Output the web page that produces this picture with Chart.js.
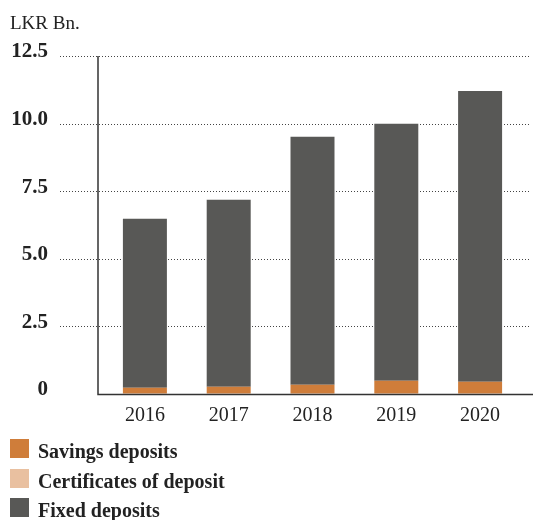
<!DOCTYPE html>
<html>
<head>
<meta charset="utf-8">
<script src="https://cdn.jsdelivr.net/npm/chart.js@4/dist/chart.umd.min.js"></script>
<style>
  body { margin: 0; background: #fff; }
  #wrap { position: relative; width: 533px; height: 520px; overflow: hidden; }
  #title { position: absolute; left: 10px; top: 12px; font: 19px "Liberation Serif", serif; color: #222; }
  .leg { position: absolute; left: 10px; height: 19px; font: bold 20px "Liberation Serif", serif; color: #222; white-space: nowrap; }
  .leg span { display: inline-block; width: 19px; height: 19px; vertical-align: top; margin-right: 9px; }
  .leg b { display: inline-block; line-height: 19px; vertical-align: top; position: relative; top: 3px; }
</style>
</head>
<body>
<div id="wrap">
  <canvas id="c" width="533" height="520"></canvas>
  <div id="title">LKR Bn.</div>
  <div id="legend"></div>
</div>
<script>
// values (LKR Bn.)
var years = ['2016', '2017', '2018', '2019', '2020'];
var savings = [0.23, 0.27, 0.34, 0.49, 0.45];
var certificates = [0, 0, 0, 0, 0];
var fixedDeposits = [6.25, 6.91, 9.17, 9.50, 10.76];
var yTicks = [0, 2.5, 5, 7.5, 10, 12.5];

var names = ['Savings deposits', 'Certificates of deposit', 'Fixed deposits'];
var colours = ['#cf7d3a', '#e9c0a0', '#585856'];

// legend rows
var leg = document.getElementById('legend');
names.forEach(function (n, i) {
  var d = document.createElement('div');
  d.className = 'leg';
  d.style.top = (439 + i * 29.5) + 'px';
  d.innerHTML = '<span style="background:' + colours[i] + '"></span><b>' + n + '</b>';
  leg.appendChild(d);
});

// dotted grid lines and the L shaped axis
var axisLines = {
  id: 'axisLines',
  beforeDatasetsDraw: function (chart) {
    var ctx = chart.ctx, y = chart.scales.y;
    ctx.save();
    ctx.strokeStyle = '#444';
    ctx.lineWidth = 1;
    ctx.setLineDash([1, 2]);
    yTicks.forEach(function (v) {
      if (v === 0) return;
      var py = Math.round(y.getPixelForValue(v)) + 0.5;
      ctx.beginPath();
      ctx.moveTo(60, py);
      ctx.lineTo(531, py);
      ctx.stroke();
    });
    ctx.restore();
  },
  afterDatasetsDraw: function (chart) {
    var ctx = chart.ctx, y = chart.scales.y;
    var top = y.getPixelForValue(12.5), bottom = y.getPixelForValue(0);
    ctx.save();
    ctx.strokeStyle = '#333';
    ctx.lineWidth = 1.5;
    ctx.beginPath();
    ctx.moveTo(98, top);
    ctx.lineTo(98, bottom + 0.5);
    ctx.lineTo(533, bottom + 0.5);
    ctx.stroke();
    ctx.restore();
  }
};

new Chart(document.getElementById('c'), {
  type: 'bar',
  data: {
    labels: years,
    datasets: [
      { label: names[0], data: savings, backgroundColor: colours[0] },
      { label: names[1], data: certificates, backgroundColor: colours[1] },
      { label: names[2], data: fixedDeposits, backgroundColor: colours[2] }
    ]
  },
  options: {
    responsive: false,
    animation: false,
    layout: { padding: { top: 56, right: 11, bottom: 86, left: 0 } },
    barPercentage: 0.525,
    categoryPercentage: 1,
    plugins: { legend: { display: false }, tooltip: { enabled: false } },
    scales: {
      x: {
        stacked: true,
        grid: { display: false, drawTicks: false },
        border: { display: false },
        ticks: { color: '#222', padding: 10, font: { family: 'Liberation Serif', size: 20 } },
        afterFit: function (s) { s.height = 40; }
      },
      y: {
        stacked: true,
        min: 0,
        max: 12.5,
        grid: { display: true, drawOnChartArea: false, drawTicks: true, tickLength: 50, color: 'rgba(0,0,0,0)' },
        border: { display: false },
        ticks: {
          stepSize: 2.5,
          padding: 5,
          labelOffset: -4,
          color: '#222',
          font: { family: 'Liberation Serif', size: 21, weight: 'bold' },
          callback: function (v) { return v === 0 ? '0' : v.toFixed(1); }
        },
        afterFit: function (s) { s.width = 103; }
      }
    }
  },
  plugins: [axisLines]
});
</script>
</body>
</html>
